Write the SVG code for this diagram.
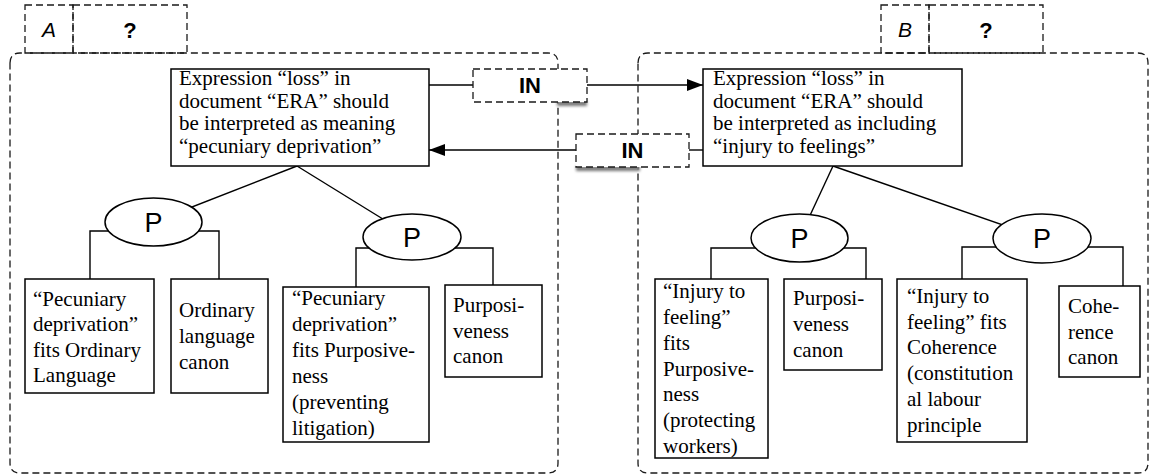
<svg xmlns="http://www.w3.org/2000/svg" width="1152" height="476" viewBox="0 0 1152 476">
  <defs>
    <marker id="arrow" markerUnits="userSpaceOnUse" markerWidth="16" markerHeight="12" refX="16" refY="6" orient="auto">
      <path d="M0,0 L16,6 L0,12 Z" fill="#000"/>
    </marker>
    <filter id="soft" x="-20%" y="-50%" width="140%" height="200%">
      <feGaussianBlur stdDeviation="1.6"/>
    </filter>
  </defs>
  <style>
    .dash { fill: none; stroke: #1a1a1a; stroke-width: 1.3; stroke-dasharray: 7 4; }
    .dashw { fill: #fff; stroke: #1a1a1a; stroke-width: 1.3; stroke-dasharray: 7 4; }
    .box { fill: #fff; stroke: #000; stroke-width: 1.5; }
    .ell { fill: #fff; stroke: #000; stroke-width: 1.5; }
    .ln { fill: none; stroke: #000; stroke-width: 1.4; }
    .t { font-family: "Liberation Serif", Tinos, "Times New Roman", serif; font-size: 21px; fill: #000; }
    .sans { font-family: "Liberation Sans", Arimo, Arial, sans-serif; }
    .p { font-size: 27px; fill: #000; text-anchor: middle; }
    .in { font-size: 22px; font-weight: bold; fill: #000; text-anchor: middle; }
    .tab { font-size: 21px; fill: #000; text-anchor: middle; }
    .tabi { font-style: italic; }
    .tabb { font-weight: bold; font-size: 22px; }
    .shadow { fill: #777; filter: url(#soft); }
  </style>

  <!-- dashed argument containers with their title tabs -->
  <g id="container-A">
    <path class="dash" d="M10,63 Q10,53 20,53 L548,53 Q558,53 558,63 L558,463 Q558,473 548,473 L20,473 Q10,473 10,463 Z"/>
    <rect class="dash" x="25" y="5" width="48" height="48"/>
    <rect class="dash" x="73" y="5" width="114" height="48"/>
    <text class="sans tab tabi" x="49" y="37">A</text>
    <text class="sans tab tabb" x="130" y="38">?</text>
  </g>
  <g id="container-B">
    <path class="dash" d="M638,63 Q638,53 648,53 L1138,53 Q1148,53 1148,63 L1148,463 Q1148,473 1138,473 L648,473 Q638,473 638,463 Z"/>
    <rect class="dash" x="881" y="5" width="48" height="48"/>
    <rect class="dash" x="929" y="5" width="114" height="48"/>
    <text class="sans tab tabi" x="905" y="37">B</text>
    <text class="sans tab tabb" x="986" y="38">?</text>
  </g>

  <!-- connectors -->
  <g id="connectors">
    <!-- IN: A to B -->
    <line class="ln" x1="429" y1="85" x2="473" y2="85"/>
    <line class="ln" x1="587" y1="85" x2="703" y2="85" marker-end="url(#arrow)"/>
    <!-- IN: B to A -->
    <line class="ln" x1="703" y1="150" x2="689" y2="150"/>
    <line class="ln" x1="576" y1="150" x2="429" y2="150" marker-end="url(#arrow)"/>
    <!-- claim A to its P nodes -->
    <line class="ln" x1="297" y1="166" x2="153.5" y2="222"/>
    <line class="ln" x1="297" y1="166" x2="412" y2="237"/>
    <!-- claim B to its P nodes -->
    <line class="ln" x1="833" y1="166" x2="799.5" y2="238"/>
    <line class="ln" x1="833" y1="166" x2="1042" y2="238.5"/>
    <!-- P brackets down to the premises -->
    <path class="ln" d="M90,279 V231 H219 V279"/>
    <path class="ln" d="M356,287 V248 H493 V285"/>
    <path class="ln" d="M711,279 V248 H866 V279"/>
    <path class="ln" d="M962,279 V247 H1123 V286"/>
  </g>

  <!-- IN relation boxes -->
  <g id="in-ab">
    <rect class="shadow" x="557" y="101" width="30" height="5"/>
    <rect class="dashw" x="473" y="69" width="114" height="33"/>
    <text class="sans in" x="530" y="93">IN</text>
  </g>
  <g id="in-ba">
    <rect class="shadow" x="576" y="166" width="64" height="5"/>
    <rect class="dashw" x="576" y="134" width="113" height="33"/>
    <text class="sans in" x="632.5" y="158">IN</text>
  </g>

  <!-- claims -->
  <g id="claim-a">
    <rect class="box" x="171" y="69" width="258" height="97"/>
    <text class="t" x="179" y="85">Expression “loss” in</text>
    <text class="t" x="179" y="107.5">document “ERA” should</text>
    <text class="t" x="179" y="130">be interpreted as  meaning</text>
    <text class="t" x="179" y="152.5">“pecuniary deprivation”</text>
  </g>
  <g id="claim-b">
    <rect class="box" x="703" y="69" width="259" height="97"/>
    <text class="t" x="713" y="85">Expression “loss” in</text>
    <text class="t" x="713" y="107.5">document “ERA” should</text>
    <text class="t" x="713" y="130">be interpreted as  including</text>
    <text class="t" x="713" y="152.5">“injury to feelings”</text>
  </g>

  <!-- P nodes -->
  <g id="p-a1">
    <ellipse class="ell" cx="153.5" cy="222" rx="48.5" ry="24"/>
    <text class="sans p" x="153.5" y="231.5">P</text>
  </g>
  <g id="p-a2">
    <ellipse class="ell" cx="412" cy="237" rx="49" ry="23"/>
    <text class="sans p" x="412" y="246.5">P</text>
  </g>
  <g id="p-b1">
    <ellipse class="ell" cx="799.5" cy="238" rx="48.5" ry="24"/>
    <text class="sans p" x="799.5" y="247.5">P</text>
  </g>
  <g id="p-b2">
    <ellipse class="ell" cx="1042" cy="238.5" rx="49" ry="24.5"/>
    <text class="sans p" x="1042" y="248">P</text>
  </g>

  <!-- premises of argument A -->
  <g id="a-fit-ordinary">
    <rect class="box" x="25" y="279" width="129" height="114"/>
    <text class="t" x="33" y="306">“Pecuniary</text>
    <text class="t" x="33" y="331">deprivation”</text>
    <text class="t" x="33" y="357">fits Ordinary</text>
    <text class="t" x="33" y="382">Language</text>
  </g>
  <g id="a-ordinary-canon">
    <rect class="box" x="171" y="279" width="97" height="114"/>
    <text class="t" x="179" y="317">Ordinary</text>
    <text class="t" x="179" y="343">language</text>
    <text class="t" x="179" y="369">canon</text>
  </g>
  <g id="a-fit-purpose">
    <rect class="box" x="283" y="287" width="146" height="155"/>
    <text class="t" x="292" y="305">“Pecuniary</text>
    <text class="t" x="292" y="331">deprivation”</text>
    <text class="t" x="292" y="357">fits Purposive-</text>
    <text class="t" x="292" y="383">ness</text>
    <text class="t" x="292" y="409">(preventing</text>
    <text class="t" x="292" y="435">litigation)</text>
  </g>
  <g id="a-purpose-canon">
    <rect class="box" x="445" y="285" width="97" height="92"/>
    <text class="t" x="453" y="312">Purposi-</text>
    <text class="t" x="453" y="338">veness</text>
    <text class="t" x="453" y="363">canon</text>
  </g>

  <!-- premises of argument B -->
  <g id="b-fit-purpose">
    <rect class="box" x="655" y="279" width="113" height="179"/>
    <text class="t" x="663" y="298">“Injury to</text>
    <text class="t" x="663" y="324">feeling”</text>
    <text class="t" x="663" y="350">fits</text>
    <text class="t" x="663" y="376">Purposive-</text>
    <text class="t" x="663" y="401">ness</text>
    <text class="t" x="663" y="427">(protecting</text>
    <text class="t" x="663" y="453">workers)</text>
  </g>
  <g id="b-purpose-canon">
    <rect class="box" x="784" y="279" width="98" height="91"/>
    <text class="t" x="793" y="305">Purposi-</text>
    <text class="t" x="793" y="331">veness</text>
    <text class="t" x="793" y="357">canon</text>
  </g>
  <g id="b-fit-coherence">
    <rect class="box" x="897" y="279" width="130" height="163"/>
    <text class="t" x="907" y="303">“Injury to</text>
    <text class="t" x="907" y="329">feeling” fits</text>
    <text class="t" x="907" y="354">Coherence</text>
    <text class="t" x="907" y="380">(constitution</text>
    <text class="t" x="907" y="406">al labour</text>
    <text class="t" x="907" y="432">principle</text>
  </g>
  <g id="b-coherence-canon">
    <rect class="box" x="1059" y="286" width="81" height="91"/>
    <text class="t" x="1068" y="313">Cohe-</text>
    <text class="t" x="1068" y="339">rence</text>
    <text class="t" x="1068" y="364">canon</text>
  </g>
</svg>
